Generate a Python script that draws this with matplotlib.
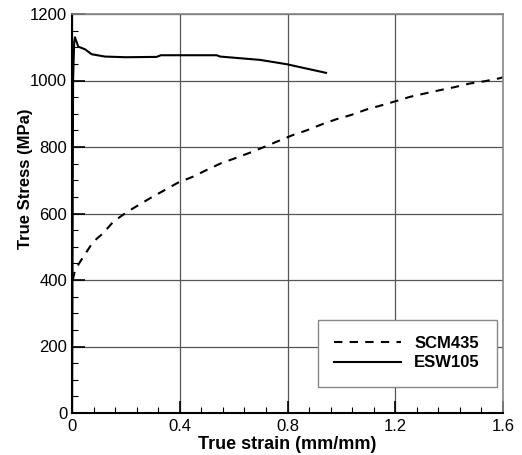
import matplotlib
matplotlib.use("Agg")
import matplotlib.pyplot as plt
from matplotlib.ticker import MultipleLocator

scm_strain = [0.003, 0.011, 0.042, 0.079, 0.116, 0.153, 0.203, 0.29, 0.394, 0.45, 0.5,
              0.553, 0.605, 0.661, 0.716, 0.766, 0.82, 0.871, 0.927, 0.983, 1.035,
              1.094, 1.143, 1.203, 1.255, 1.31, 1.366, 1.42, 1.477, 1.533, 1.589, 1.6]
scm_stress = [400, 430, 470, 515, 541, 575, 604, 646, 693, 711, 731,
              751, 766, 783, 801, 818, 836, 850, 868, 884, 896,
              913, 924, 938, 951, 961, 971, 980, 991, 998, 1007, 1010]

esw_strain = [0.0, 0.004, 0.008, 0.011, 0.023, 0.048, 0.073, 0.122, 0.2, 0.314, 0.33,
              0.45, 0.537, 0.55, 0.624, 0.698, 0.797, 0.87, 0.943]
esw_stress = [0, 1000, 1115, 1130, 1102, 1094, 1079, 1072, 1070, 1071, 1076,
              1076, 1076, 1072, 1067, 1062, 1049, 1036, 1023]

x_ticks = [0, 0.4, 0.8, 1.2, 1.6]
x_ticklabels = ["0", "0.4", "0.8", "1.2", "1.6"]
y_ticks = [0, 200, 400, 600, 800, 1000, 1200]

plt.rcParams['font.family'] = ['Liberation Sans', 'DejaVu Sans']

fig = plt.figure(figsize=(5.22, 4.55), dpi=100)
ax = fig.add_axes([72/522, 42/455, (503-72)/522, (413-14)/455])

ax.plot(scm_strain, scm_stress, color='black', lw=1.5, ls=(0, (4, 3.5)), label='SCM435')
ax.plot(esw_strain, esw_stress, color='black', lw=1.5, ls='-', label='ESW105')

ax.set_xlim(0, 1.6)
ax.set_ylim(0, 1200)
ax.set_xticks(x_ticks)
ax.set_xticklabels(x_ticklabels)
ax.set_yticks(y_ticks)
ax.xaxis.set_minor_locator(MultipleLocator(0.08))
ax.yaxis.set_minor_locator(MultipleLocator(50))
ax.tick_params(which='both', direction='in', top=False, right=False, labelsize=12, colors='black')
ax.tick_params(which='major', length=9, width=1.2)
ax.tick_params(which='minor', length=4, width=0.8)
ax.tick_params(axis='x', pad=4)

ax.grid(True, which='major', color='#555555', lw=0.9)
for s in ['left', 'bottom']:
    ax.spines[s].set_color('black')
    ax.spines[s].set_linewidth(1.5)
for s in ['top', 'right']:
    ax.spines[s].set_color('#888888')
    ax.spines[s].set_linewidth(1.2)

ax.set_xlabel('True strain (mm/mm)', fontsize=13, fontweight='bold', labelpad=2)
ax.set_ylabel('True Stress (MPa)', fontsize=12, fontweight='bold')
ax.yaxis.set_label_coords(-0.09, 0.586)

leg = ax.legend(loc='lower right', bbox_to_anchor=(0.985, 0.065), frameon=True, fancybox=False,
                edgecolor='#888888', framealpha=1, prop={'weight': 'bold', 'size': 12},
                handlelength=4.0, borderpad=1.0, labelspacing=0.25, handletextpad=0.8,
                borderaxespad=0)
leg.get_frame().set_linewidth(1.0)

fig.savefig('out.png', dpi=100)
